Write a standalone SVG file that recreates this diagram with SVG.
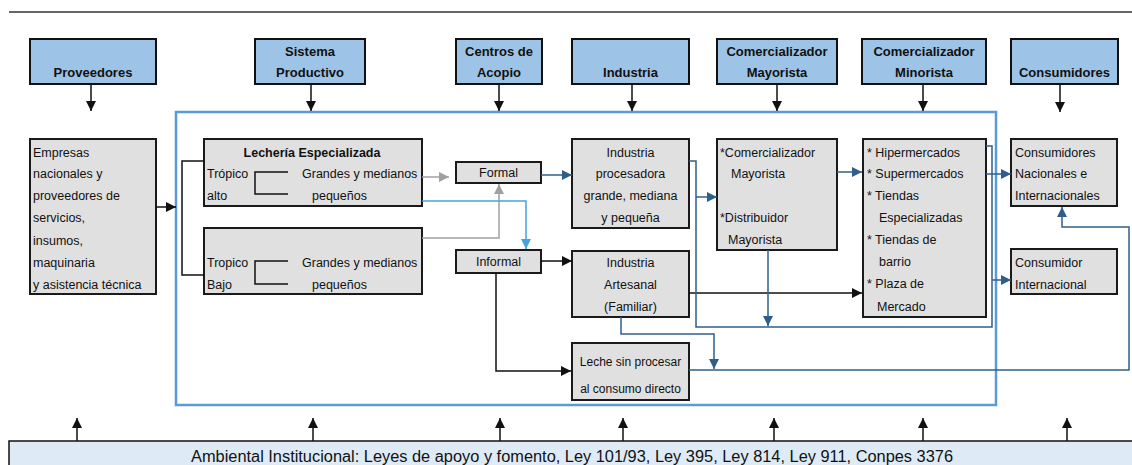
<svg xmlns="http://www.w3.org/2000/svg" width="1132" height="465" viewBox="0 0 1132 465">
<style>
text{font-family:"Liberation Sans",Arial,sans-serif;fill:#111}
.h{fill:#9dc3e6;stroke:#111;stroke-width:2}
.b{fill:#e0e0e0;stroke:#1a1a1a;stroke-width:2}
.ht{font-size:13px;font-weight:bold;text-anchor:middle}
.t{font-size:12.5px}
.c{text-anchor:middle}
.k{fill:none;stroke:#111;stroke-width:1.5}
.d{fill:none;stroke:#2e5f8c;stroke-width:1.5}
.g{fill:none;stroke:#a0a0a0;stroke-width:1.5}
.l{fill:none;stroke:#45a2e0;stroke-width:1.5}
</style>
<defs>
<marker id="ak" viewBox="0 0 10 10" refX="10" refY="5" markerWidth="10" markerHeight="10" markerUnits="userSpaceOnUse" orient="auto"><path d="M0,0L10,5L0,10z" fill="#111"/></marker>
<marker id="ad" viewBox="0 0 10 10" refX="10" refY="5" markerWidth="10" markerHeight="10" markerUnits="userSpaceOnUse" orient="auto"><path d="M0,0L10,5L0,10z" fill="#2e5f8c"/></marker>
<marker id="ag" viewBox="0 0 10 10" refX="10" refY="5" markerWidth="10" markerHeight="10" markerUnits="userSpaceOnUse" orient="auto"><path d="M0,0L10,5L0,10z" fill="#a0a0a0"/></marker>
<marker id="al" viewBox="0 0 10 10" refX="10" refY="5" markerWidth="10" markerHeight="10" markerUnits="userSpaceOnUse" orient="auto"><path d="M0,0L10,5L0,10z" fill="#45a2e0"/></marker>
</defs>
<rect width="1132" height="465" fill="#fff"/>
<line x1="9" y1="12" x2="1132" y2="12" stroke="#333" stroke-width="1.5"/>
<rect id="frame" x="176" y="112" width="820" height="293" fill="none" stroke="#5b9bd5" stroke-width="2.5"/>

<g id="h-proveedores"><rect class="h" x="30" y="39" width="126" height="45"/><text class="ht" x="93" y="77">Proveedores</text></g>
<g id="h-sistema"><rect class="h" x="255" y="39" width="110" height="45"/><text class="ht" x="310" y="56">Sistema</text><text class="ht" x="310" y="77">Productivo</text></g>
<g id="h-centros"><rect class="h" x="456" y="39" width="86" height="45"/><text class="ht" x="499" y="56">Centros de</text><text class="ht" x="499" y="77">Acopio</text></g>
<g id="h-industria"><rect class="h" x="572" y="39" width="117" height="45"/><text class="ht" x="630.5" y="77">Industria</text></g>
<g id="h-mayorista"><rect class="h" x="717" y="39" width="120" height="45"/><text class="ht" x="777" y="56">Comercializador</text><text class="ht" x="777" y="77">Mayorista</text></g>
<g id="h-minorista"><rect class="h" x="862" y="39" width="124" height="45"/><text class="ht" x="924" y="56">Comercializador</text><text class="ht" x="924" y="77">Minorista</text></g>
<g id="h-consumidores"><rect class="h" x="1011" y="39" width="107" height="45"/><text class="ht" x="1064.5" y="77">Consumidores</text></g>

<g id="empresas"><rect class="b" x="30" y="139" width="126" height="155"/>
<text class="t" x="33" y="156.5">Empresas</text><text class="t" x="33" y="178">nacionales y</text><text class="t" x="33" y="200">proveedores de</text><text class="t" x="33" y="222">servicios,</text><text class="t" x="33" y="244.5">insumos,</text><text class="t" x="33" y="266.5">maquinaria</text><text class="t" x="33" y="288.5">y asistencia técnica</text></g>

<g id="lecheria"><rect class="b" x="204" y="139" width="218" height="67"/>
<text class="t" x="312" y="156.5" text-anchor="middle" font-weight="bold" font-size="12px">Lechería Especializada</text>
<text class="t" x="207" y="178">Trópico</text><text class="t" x="207" y="200">alto</text>
<polyline class="k" points="288,172 255,172 255,194 288,194"/>
<text class="t" x="302" y="178">Grandes y medianos</text><text class="t" x="312" y="200">pequeños</text></g>

<g id="tropico-bajo"><rect class="b" x="204" y="228" width="218" height="66"/>
<text class="t" x="207" y="266.5">Tropico</text><text class="t" x="207" y="288.5">Bajo</text>
<polyline class="k" points="288,261 255,261 255,284 288,284"/>
<text class="t" x="302" y="266.5">Grandes y medianos</text><text class="t" x="312" y="288.5">pequeños</text></g>

<g id="formal"><rect class="b" x="456" y="162" width="85" height="21"/><text class="t c" x="498.5" y="177">Formal</text></g>
<g id="informal"><rect class="b" x="456" y="250" width="85" height="23"/><text class="t c" x="498.5" y="266">Informal</text></g>

<g id="ind-procesadora"><rect class="b" x="572" y="139" width="117" height="89"/>
<text class="t c" x="630.5" y="156.5">Industria</text><text class="t c" x="630.5" y="178">procesadora</text><text class="t c" x="630.5" y="200">grande, mediana</text><text class="t c" x="630.5" y="222">y pequeña</text></g>

<g id="ind-artesanal"><rect class="b" x="572" y="251" width="117" height="66"/>
<text class="t c" x="630.5" y="266.5">Industria</text><text class="t c" x="630.5" y="288.5">Artesanal</text><text class="t c" x="630.5" y="310.5">(Familiar)</text></g>

<g id="leche"><rect class="b" x="572" y="343" width="117" height="57"/>
<text class="c" x="630.5" y="366" font-size="12px">Leche sin procesar</text><text class="c" x="630.5" y="393" font-size="12px">al consumo directo</text></g>

<g id="mayorista"><rect class="b" x="717" y="139" width="120" height="111"/>
<text class="t" x="720" y="156.5">*Comercializador</text><text class="t" x="731" y="178">Mayorista</text><text class="t" x="720" y="222">*Distribuidor</text><text class="t" x="728" y="244">Mayorista</text></g>

<g id="minorista"><rect class="b" x="863" y="139" width="123" height="178"/>
<text class="t" x="867" y="156.5">* Hipermercados</text><text class="t" x="867" y="178">* Supermercados</text><text class="t" x="867" y="200">* Tiendas</text><text class="t" x="879" y="222">Especializadas</text><text class="t" x="867" y="244">* Tiendas de</text><text class="t" x="879" y="266">barrio</text><text class="t" x="867" y="288">* Plaza de</text><text class="t" x="877" y="310.5">Mercado</text></g>

<g id="cons-nac"><rect class="b" x="1011" y="139" width="106" height="67"/>
<text class="t" x="1015" y="156.5">Consumidores</text><text class="t" x="1015" y="178">Nacionales e</text><text class="t" x="1015" y="200">Internacionales</text></g>

<g id="cons-int"><rect class="b" x="1011" y="249" width="106" height="45"/>
<text class="t" x="1015" y="266.5">Consumidor</text><text class="t" x="1015" y="288.5">Internacional</text></g>

<g id="ambiental"><rect x="9" y="441" width="1130" height="30" fill="#deebf7" stroke="#111" stroke-width="1.5"/>
<text x="572" y="462" font-size="16px" text-anchor="middle" textLength="762" lengthAdjust="spacingAndGlyphs">Ambiental Institucional: Leyes de apoyo y fomento, Ley 101/93, Ley 395, Ley 814, Ley 911, Conpes 3376</text></g>

<g id="connectors">
<line class="k" x1="91" y1="84" x2="91" y2="111" marker-end="url(#ak)"/>
<line class="k" x1="311" y1="84" x2="311" y2="111" marker-end="url(#ak)"/>
<line class="k" x1="499" y1="84" x2="499" y2="111" marker-end="url(#ak)"/>
<line class="k" x1="632" y1="84" x2="632" y2="111" marker-end="url(#ak)"/>
<line class="k" x1="777" y1="84" x2="777" y2="111" marker-end="url(#ak)"/>
<line class="k" x1="923" y1="84" x2="923" y2="111" marker-end="url(#ak)"/>
<line class="k" x1="1060" y1="84" x2="1060" y2="112" marker-end="url(#ak)"/>
<line class="k" x1="156" y1="207" x2="176" y2="207" marker-end="url(#ak)"/>
<polyline class="k" points="204,161 182,161 182,275 204,275"/>
<line class="g" x1="422" y1="177" x2="449" y2="177" marker-end="url(#ag)"/>
<polyline class="g" points="422,238 499,238 499,184" marker-end="url(#ag)"/>
<polyline class="l" points="422,201 526,201 526,249" marker-end="url(#al)"/>
<line class="d" x1="541" y1="175" x2="572" y2="175" marker-end="url(#ad)"/>
<line class="k" x1="541" y1="261" x2="572" y2="261" marker-end="url(#ak)"/>
<polyline class="k" points="496,273 496,371 571,371" marker-end="url(#ak)"/>
<line class="k" x1="689" y1="293" x2="862" y2="293" marker-end="url(#ak)"/>
<polyline class="d" points="689,161 696,161 696,327 992,327 992,146 986,146"/>
<line class="d" x1="696" y1="197" x2="717" y2="197" marker-end="url(#ad)"/>
<line class="d" x1="992" y1="280" x2="1011" y2="280" marker-end="url(#ad)"/>
<line class="d" x1="768" y1="250" x2="768" y2="326" marker-end="url(#ad)"/>
<line class="d" x1="837" y1="172" x2="862" y2="172" marker-end="url(#ad)"/>
<line class="d" x1="986" y1="174" x2="1011" y2="174" marker-end="url(#ad)"/>
<polyline class="d" points="621,317 621,334 714,334 714,369" marker-end="url(#ad)"/>
<polyline class="d" points="689,370 1129,370 1129,227 1062,227 1062,207" marker-end="url(#ad)"/>
<line class="k" x1="77" y1="441" x2="77" y2="418" marker-end="url(#ak)"/>
<line class="k" x1="313" y1="441" x2="313" y2="418" marker-end="url(#ak)"/>
<line class="k" x1="500" y1="441" x2="500" y2="418" marker-end="url(#ak)"/>
<line class="k" x1="623" y1="441" x2="623" y2="418" marker-end="url(#ak)"/>
<line class="k" x1="774" y1="441" x2="774" y2="418" marker-end="url(#ak)"/>
<line class="k" x1="923" y1="441" x2="923" y2="418" marker-end="url(#ak)"/>
<line class="k" x1="1067" y1="441" x2="1067" y2="418" marker-end="url(#ak)"/>
</g>
</svg>
